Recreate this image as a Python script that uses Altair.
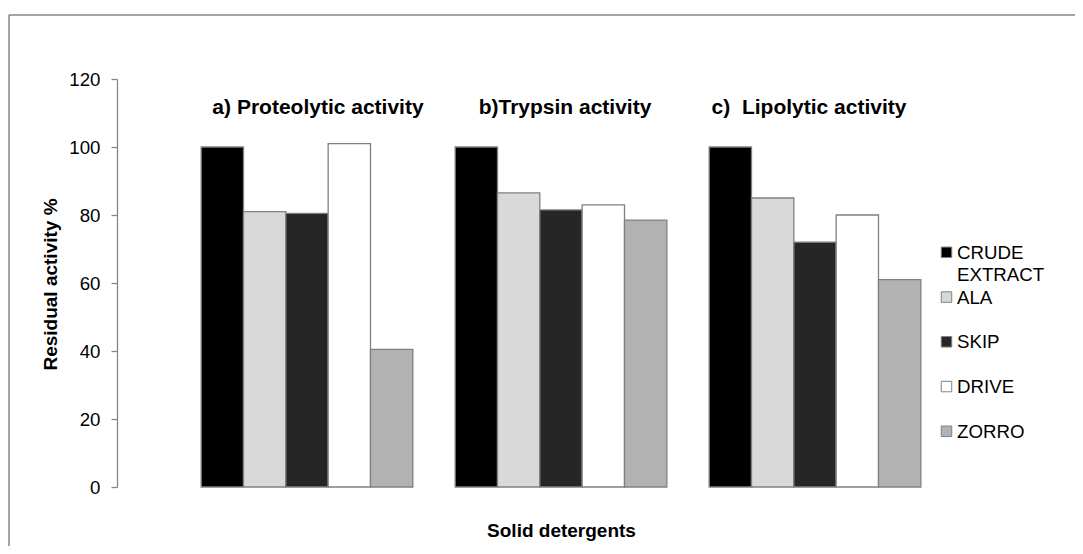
import altair as alt
import pandas as pd

# ---- data ----
groups = ["a) Proteolytic activity", "b)Trypsin activity", "c)\u00a0 Lipolytic activity"]
series = ["CRUDE EXTRACT", "ALA", "SKIP", "DRIVE", "ZORRO"]
proteolytic = [100, 81, 80.5, 101, 40.5]
trypsin = [100, 86.5, 81.5, 83, 78.5]
lipolytic = [100, 85, 72, 80, 61]
y_ticks = [0, 20, 40, 60, 80, 100, 120]

# ---- styles ----
fills = ["#000000", "#d9d9d9", "#262626", "#ffffff", "#b2b2b2"]
edge = "#808080"
FONT = "Liberation Sans"
title_dx = [11, 4, -6]

rows = []
for g, vals in zip(groups, [proteolytic, trypsin, lipolytic]):
    for s, v in zip(series, vals):
        rows.append({"group": g, "series": s, "value": v})
df = pd.DataFrame(rows)

xscale = alt.Scale(domain=groups, paddingInner=0, paddingOuter=0.248)
fill_scale = alt.Scale(domain=series, range=fills)

bars = alt.Chart(df).mark_bar(stroke=edge, strokeWidth=1.3).encode(
    x=alt.X("group:N", sort=groups, scale=xscale,
            axis=alt.Axis(labels=False, ticks=False, domain=False,
                          title="Solid detergents", titleFontSize=19,
                          titleFontWeight="bold", titleColor="#000000",
                          titleY=43, titleBaseline="middle")),
    xOffset=alt.XOffset("series:N", sort=series,
                        scale=alt.Scale(domain=series, paddingInner=0, paddingOuter=0.5)),
    y=alt.Y("value:Q", scale=alt.Scale(domain=[0, 120], nice=False),
            axis=alt.Axis(values=y_ticks, grid=False, tickSize=6, tickWidth=1.3,
                          tickColor="#868686", domainColor="#868686", domainWidth=1.3,
                          labelFontSize=18.7, labelColor="#000000", labelPadding=11,
                          title="Residual activity %", titleFontSize=19,
                          titleFontWeight="bold", titleColor="#000000",
                          titleX=-67, titleY=205, titleBaseline="middle", titleAngle=270)),
    fill=alt.Fill("series:N", scale=fill_scale, legend=None),
)

title_layers = []
for g, dx in zip(groups, title_dx):
    tdf = pd.DataFrame({"group": [g]})
    title_layers.append(
        alt.Chart(tdf).mark_text(fontSize=21, fontWeight="bold", color="#000000",
                                 align="center", baseline="alphabetic", dx=dx).encode(
            x=alt.X("group:N", sort=groups, scale=xscale),
            y=alt.value(35),
            text="group:N",
        )
    )

leg_df = pd.DataFrame({"series": series})
leg_y = alt.Y("series:N", sort=series,
              scale=alt.Scale(type="point", domain=series, range=[173.3, 352.3], padding=0),
              axis=None)
leg_sym = alt.Chart(leg_df).mark_square(size=110, stroke=edge, strokeWidth=1, opacity=1).encode(
    x=alt.value(829.5),
    y=leg_y,
    fill=alt.Fill("series:N", scale=fill_scale, legend=None),
)
leg_txt = alt.Chart(leg_df).mark_text(fontSize=18.7, color="#000000", align="left",
                                      baseline="alphabetic", dy=6.5, lineBreak=" ",
                                      lineHeight=22).encode(
    x=alt.value(840),
    y=leg_y,
    text="series:N",
)

frame_df = pd.DataFrame({"k": [0]})
frame_top = alt.Chart(frame_df).mark_rule(color="#868686", strokeWidth=1.5).encode(
    x=alt.value(-108), x2=alt.value(1000), y=alt.value(-64))
frame_left = alt.Chart(frame_df).mark_rule(color="#868686", strokeWidth=1.5).encode(
    x=alt.value(-108), y=alt.value(-64), y2=alt.value(500))

chart = alt.layer(frame_top, frame_left, bars, *title_layers, leg_sym, leg_txt).resolve_scale(
    y="independent"
).properties(
    width=888, height=408,
    padding={"left": 109, "top": 71, "right": 70, "bottom": 59},
    autosize=alt.AutoSizeParams(type="none"),
).configure(font=FONT).configure_view(stroke=None)

chart.save("out.html", embed_options={"renderer": "svg", "actions": False})
